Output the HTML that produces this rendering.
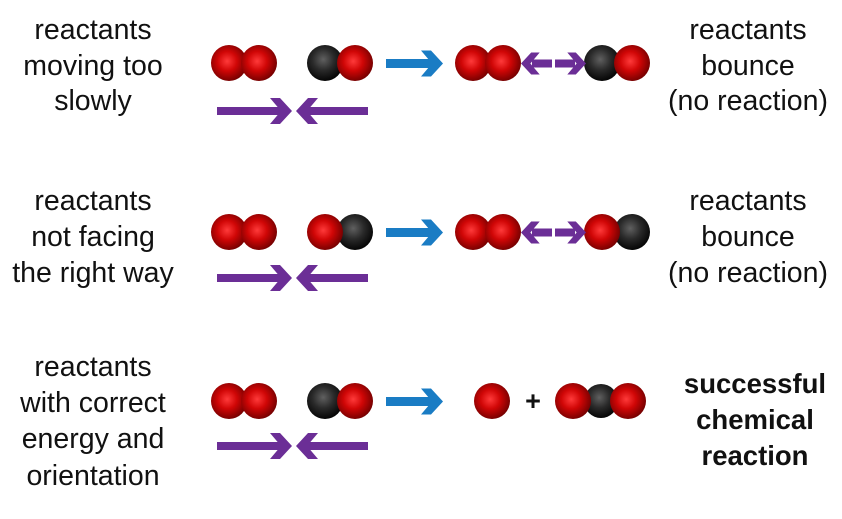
<!DOCTYPE html>
<html><head><meta charset="utf-8"><style>
html,body{margin:0;padding:0;background:#fff}
svg{display:block}
text{font-family:"Liberation Sans",sans-serif;font-size:28.5px;fill:#111}
.b{font-weight:bold;font-size:27.5px}
</style></head><body>
<svg width="842" height="519" viewBox="0 0 842 519">
<defs>
<radialGradient id="r" cx="0.45" cy="0.45" r="0.6">
<stop offset="0" stop-color="#ff3a3a"/><stop offset="0.45" stop-color="#d00606"/><stop offset="1" stop-color="#6a0000"/></radialGradient>
<radialGradient id="k" cx="0.45" cy="0.4" r="0.6">
<stop offset="0" stop-color="#606060"/><stop offset="0.5" stop-color="#2a2a2a"/><stop offset="1" stop-color="#050505"/></radialGradient>
<g id="ra"><polygon points="0,0 -12,-13 -22,-13 -11,0 -22,13 -12,13" /></g>
</defs>
<g text-anchor="middle">
<text x="93" y="39">reactants</text><text x="93" y="75">moving too</text><text x="93" y="110">slowly</text>
<text x="93" y="210">reactants</text><text x="93" y="246">not facing</text><text x="93" y="282">the right way</text>
<text x="93" y="376">reactants</text><text x="93" y="412">with correct</text><text x="93" y="448">energy and</text><text x="93" y="485">orientation</text>
<text x="748" y="39">reactants</text><text x="748" y="75">bounce</text><text x="748" y="110">(no reaction)</text>
<text x="748" y="210">reactants</text><text x="748" y="246">bounce</text><text x="748" y="282">(no reaction)</text>
<text class="b" x="755" y="393">successful</text><text class="b" x="755" y="429">chemical</text><text class="b" x="755" y="465">reaction</text>
</g>
<g>
<circle cx="229" cy="63" r="18" fill="url(#r)"/><circle cx="259" cy="63" r="18" fill="url(#r)"/>
<circle cx="325" cy="63" r="18" fill="url(#k)"/><circle cx="355" cy="63" r="18" fill="url(#r)"/>
<circle cx="473" cy="63" r="18" fill="url(#r)"/><circle cx="503" cy="63" r="18" fill="url(#r)"/>
<circle cx="602" cy="63" r="18" fill="url(#k)"/><circle cx="632" cy="63" r="18" fill="url(#r)"/>
</g>
<g>
<circle cx="229" cy="232" r="18" fill="url(#r)"/><circle cx="259" cy="232" r="18" fill="url(#r)"/>
<circle cx="355" cy="232" r="18" fill="url(#k)"/><circle cx="325" cy="232" r="18" fill="url(#r)"/>
<circle cx="473" cy="232" r="18" fill="url(#r)"/><circle cx="503" cy="232" r="18" fill="url(#r)"/>
<circle cx="632" cy="232" r="18" fill="url(#k)"/><circle cx="602" cy="232" r="18" fill="url(#r)"/>
</g>
<g>
<circle cx="229" cy="401" r="18" fill="url(#r)"/><circle cx="259" cy="401" r="18" fill="url(#r)"/>
<circle cx="325" cy="401" r="18" fill="url(#k)"/><circle cx="355" cy="401" r="18" fill="url(#r)"/>
<circle cx="492" cy="401" r="18" fill="url(#r)"/>
<circle cx="601" cy="401" r="17" fill="url(#k)"/>
<circle cx="573" cy="401" r="18" fill="url(#r)"/><circle cx="628" cy="401" r="18" fill="url(#r)"/>
<text x="533" y="410" text-anchor="middle" class="b" style="font-size:27px">+</text>
</g>
<g fill="#1a7cc4">
<rect x="386" y="59" width="46" height="9"/><use href="#ra" x="443" y="63.5"/>
<rect x="386" y="228" width="46" height="9"/><use href="#ra" x="443" y="232.5"/>
<rect x="386" y="397" width="46" height="9"/><use href="#ra" x="443" y="401.5"/>
</g>
<g fill="#6b2e96">
<g id="conv">
<rect x="217" y="107" width="64" height="8"/><use href="#ra" x="292" y="111"/>
<rect x="307" y="107" width="61" height="8"/><use href="#ra" transform="translate(296,111) scale(-1,1)"/>
</g>
<use href="#conv" y="167"/>
<use href="#conv" y="335"/>
<g id="bnc">
<rect x="532" y="59.5" width="20" height="8"/><g transform="translate(521,63.5) scale(-0.85,0.85)"><polygon points="0,0 -12,-13 -22,-13 -11,0 -22,13 -12,13"/></g>
<rect x="555" y="59.5" width="20" height="8"/><g transform="translate(586,63.5) scale(0.85,0.85)"><polygon points="0,0 -12,-13 -22,-13 -11,0 -22,13 -12,13"/></g>
</g>
<use href="#bnc" y="169"/>
</g>
</svg>
</body></html>
